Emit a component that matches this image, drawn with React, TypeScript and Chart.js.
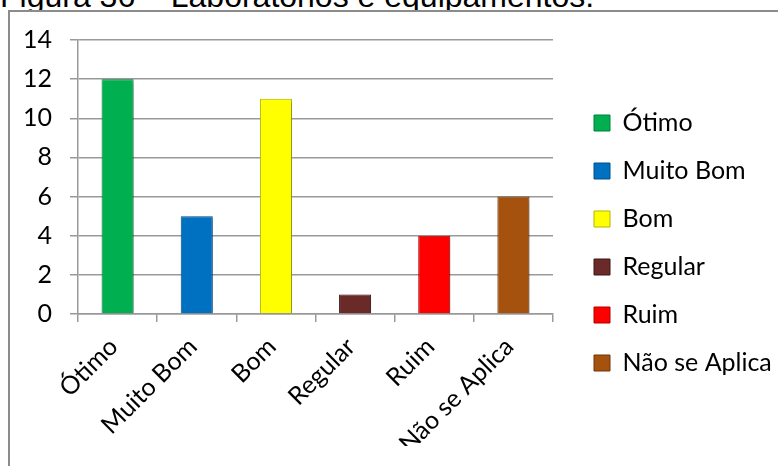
import React, { useEffect, useRef } from "react";
import { Chart, registerables } from "chart.js";

Chart.register(...registerables);

const titleText = "Figura 36 – Laboratórios e equipamentos.";
const categories = ["Ótimo", "Muito Bom", "Bom", "Regular", "Ruim", "Não se Aplica"];
const values = [12, 5, 11, 1, 4, 6];
const barColors = ["#00B050", "#0070C0", "#FFFF00", "#6A2A28", "#FF0000", "#A5520E"];
const barBorders = ["#00803A", "#00508C", "#B5B500", "#3F1716", "#B00000", "#6E3508"];
const yMin = 0;
const yMax = 14;
const yStep = 2;

const FONT = "Lato, 'Open Sans', sans-serif";
const GRID = "#999999";

const legendWidthPlugin = {
  id: "legendWidthPlugin",
  beforeLayout(chart: any) {
    const lg = chart.legend;
    if (lg && !lg.__patched) {
      const orig = lg.fit.bind(lg);
      lg.fit = function () {
        orig();
        this.width = 207;
      };
      lg.__patched = true;
    }
  },
};

const barShadowPlugin = {
  id: "barShadowPlugin",
  beforeDatasetsDraw(chart: any) {
    const ctx = chart.ctx;
    ctx.save();
    ctx.shadowColor = "rgba(0,0,0,0.28)";
    ctx.shadowBlur = 4;
    ctx.shadowOffsetX = 2;
    ctx.shadowOffsetY = 2;
  },
  afterDatasetsDraw(chart: any) {
    chart.ctx.restore();
  },
};

export default function App() {
  const canvasRef = useRef<HTMLCanvasElement | null>(null);

  useEffect(() => {
    const canvas = canvasRef.current;
    if (!canvas) return;
    const chart = new Chart(canvas, {
      type: "bar",
      data: {
        labels: categories,
        datasets: [
          {
            label: "Valores",
            data: values,
            backgroundColor: barColors,
            borderColor: barBorders,
            borderWidth: 1,
            categoryPercentage: 1,
            barPercentage: 0.405,
          },
        ],
      },
      plugins: [legendWidthPlugin, barShadowPlugin],
      options: {
        responsive: false,
        animation: false,
        layout: { padding: { top: 28, bottom: 20, left: 0, right: 0 } },
        plugins: {
          tooltip: { enabled: false },
          legend: {
            display: true,
            position: "right",
            align: "center",
            labels: {
              font: { family: FONT, size: 25 },
              color: "#000000",
              boxWidth: 16,
              boxHeight: 16,
              padding: 23,
              generateLabels: () =>
                categories.map((c, i) => ({
                  text: c,
                  fillStyle: barColors[i],
                  strokeStyle: barBorders[i],
                  lineWidth: 1,
                  hidden: false,
                  index: i,
                  datasetIndex: 0,
                })),
            },
          },
        },
        scales: {
          x: {
            offset: true,
            grid: {
              display: true,
              drawOnChartArea: false,
              drawTicks: true,
              tickLength: 8,
              color: GRID,
              lineWidth: 1.5,
              offset: true,
            },
            border: { display: true, color: GRID, width: 1.5 },
            ticks: {
              autoSkip: false,
              minRotation: 45,
              maxRotation: 45,
              padding: 10,
              labelOffset: -4,
              color: "#000000",
              font: { family: FONT, size: 25 },
            },
            afterFit: (s: any) => {
              s.height = 132;
              s.paddingLeft = 0;
              s.paddingRight = 0;
            },
          },
          y: {
            position: "left",
            min: yMin,
            max: yMax,
            ticks: {
              stepSize: yStep,
              padding: 18,
              color: "#000000",
              font: { family: FONT, size: 25 },
            },
            grid: {
              color: GRID,
              lineWidth: 1.5,
              drawTicks: true,
              tickLength: 8,
            },
            border: { display: true, color: GRID, width: 1.5 },
            afterFit: (s: any) => {
              s.width = 68;
              s.paddingTop = 0;
              s.paddingBottom = 0;
            },
          },
          spacer: {
            type: "linear",
            position: "right",
            display: true,
            grid: { display: false, drawTicks: false },
            border: { display: false },
            ticks: { display: false },
            afterFit: (s: any) => {
              s.width = 18;
              s.paddingTop = 0;
              s.paddingBottom = 0;
            },
          },
        },
      } as any,
    });
    return () => chart.destroy();
  }, []);

  return (
    <div
      style={{
        position: "fixed",
        left: 0,
        top: 0,
        width: 778,
        height: 466,
        overflow: "hidden",
        background: "#ffffff",
      }}
    >
      <div
        style={{
          position: "absolute",
          left: 0,
          top: -20,
          fontFamily: "'Liberation Sans', Arial, sans-serif",
          fontSize: 32,
          lineHeight: "32px",
          whiteSpace: "nowrap",
          color: "#000",
        }}
      >
        {titleText}
      </div>
      <div
        style={{
          position: "absolute",
          left: 8,
          top: 10,
          width: 800,
          height: 500,
          border: "2px solid #8c8c8c",
          background: "#ffffff",
        }}
      />
      <canvas
        ref={canvasRef}
        width={768}
        height={454}
        style={{ position: "absolute", left: 10, top: 12 }}
      />
    </div>
  );
}
